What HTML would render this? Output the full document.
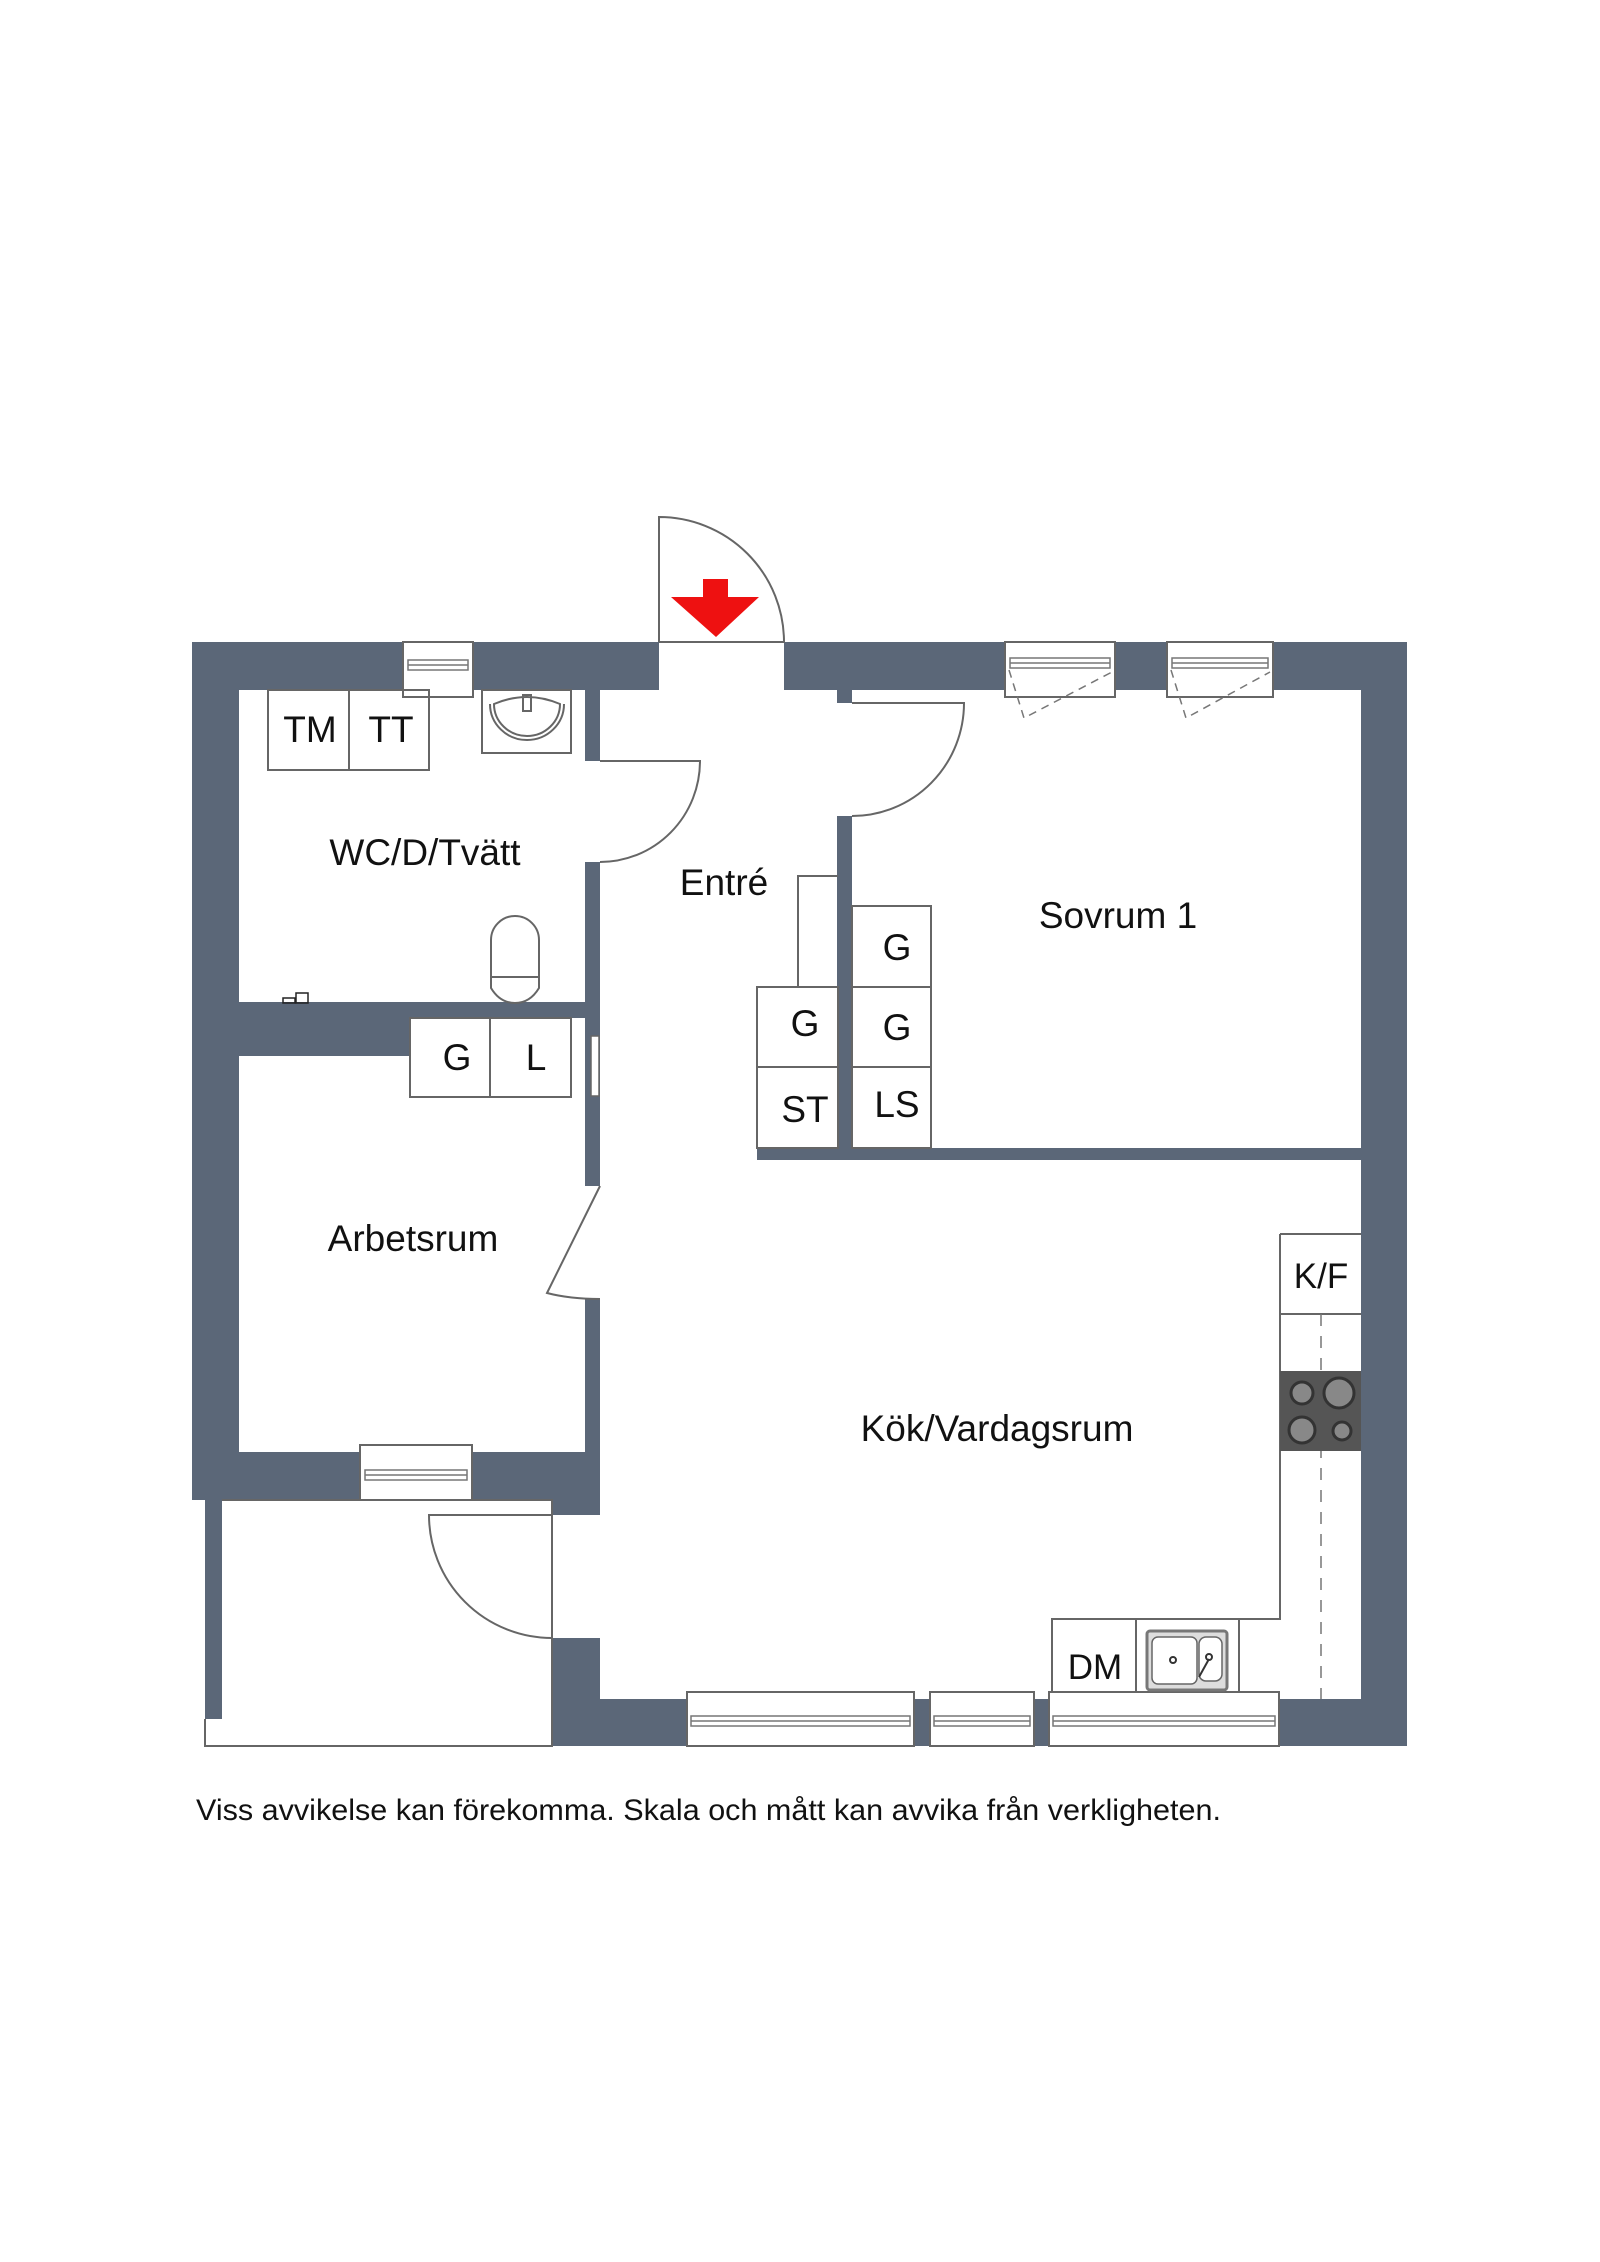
<!DOCTYPE html>
<html><head><meta charset="utf-8"><style>
html,body{margin:0;padding:0;background:#fff;}
svg{display:block;}
text{font-family:"Liberation Sans",Arial,sans-serif;fill:#111;}
</style></head><body>
<svg width="1600" height="2262" viewBox="0 0 1600 2262" xmlns="http://www.w3.org/2000/svg">
<g fill="#5b6778">
<rect x="192" y="642" width="47" height="858"/>
<rect x="192" y="642" width="467" height="48"/>
<rect x="784" y="642" width="623" height="48"/>
<rect x="1361" y="642" width="46" height="1104"/>
<rect x="1279" y="1699" width="128" height="47"/>
<rect x="837" y="690" width="15" height="13"/>
<rect x="837" y="816" width="15" height="344"/>
<rect x="757" y="1148" width="604" height="12"/>
<rect x="585" y="690" width="15" height="71"/>
<rect x="585" y="862" width="15" height="324"/>
<rect x="585" y="1299" width="15" height="153"/>
<rect x="239" y="1002" width="171" height="54"/>
<rect x="410" y="1002" width="190" height="16"/>
<rect x="192" y="1452" width="408" height="48"/>
<rect x="552" y="1500" width="48" height="15"/>
<rect x="205" y="1500" width="17" height="219"/>
<rect x="552" y="1638" width="48" height="108"/>
<rect x="552" y="1699" width="135" height="47"/>
<rect x="914" y="1699" width="16" height="47"/>
<rect x="1034" y="1699" width="15" height="47"/>
</g>

<g fill="#fff" stroke="#666" stroke-width="2">
<rect x="403" y="642" width="70" height="55"/>
<rect x="1005" y="642" width="110" height="55"/>
<rect x="1167" y="642" width="106" height="55"/>
<rect x="360" y="1445" width="112" height="55"/>
<rect x="687" y="1692" width="227" height="54"/>
<rect x="930" y="1692" width="104" height="54"/>
<rect x="1049" y="1692" width="230" height="54"/>
<rect x="591" y="1036" width="8" height="60" stroke-width="1.5"/>
</g>
<g fill="none" stroke="#777" stroke-width="1.5">
<rect x="408" y="660" width="60" height="10"/>
<line x1="408" y1="665" x2="468" y2="665"/>
<rect x="1010" y="658" width="100" height="10"/>
<line x1="1010" y1="663" x2="1110" y2="663"/>
<rect x="1172" y="658" width="96" height="10"/>
<line x1="1172" y1="663" x2="1268" y2="663"/>
<rect x="365" y="1470" width="102" height="10"/>
<line x1="365" y1="1475" x2="467" y2="1475"/>
<rect x="691" y="1716" width="219" height="10"/>
<line x1="691" y1="1721" x2="910" y2="1721"/>
<rect x="934" y="1716" width="96" height="10"/>
<line x1="934" y1="1721" x2="1030" y2="1721"/>
<rect x="1053" y="1716" width="222" height="10"/>
<line x1="1053" y1="1721" x2="1275" y2="1721"/>
<path d="M1009 670 L1024 718 L1112 672 M1171 670 L1186 718 L1270 672" stroke-dasharray="8 6"/>
</g>

<g fill="none" stroke="#666" stroke-width="2">
<path d="M659 642 L659 517 A125 125 0 0 1 784 642 L659 642"/>
<path d="M600 761 L700 761 A100 101 0 0 1 600 862"/>
<path d="M852 703 L964 703 A112 113 0 0 1 852 816"/>
<path d="M600 1186 L547 1293 Q570 1299 600 1299"/>
<path d="M552 1515 L429 1515 A123 123 0 0 0 552 1638"/>
<path d="M222 1500 L552 1500 L552 1746 L205 1746 L205 1719"/>
<rect x="268" y="690" width="81" height="80"/>
<rect x="349" y="690" width="80" height="80"/>
<rect x="482" y="690" width="89" height="63"/>
<path d="M494 704 A33 32 0 1 0 560 704 Q527 690 494 704 Z"/>
<path d="M490 704 A37 36 0 1 0 564 704"/>
<rect x="523" y="695" width="8" height="16"/>
<path d="M491 977 L491 940 A24 24 0 0 1 539 940 L539 977"/>
<path d="M491 977 L539 977 L539 988 Q530 1003 515 1003 Q500 1003 491 988 Z"/>
<rect x="410" y="1018" width="80" height="79"/>
<rect x="490" y="1018" width="81" height="79"/>
<rect x="757" y="987" width="81" height="80"/>
<rect x="757" y="1067" width="81" height="81"/>
<path d="M798 987 L798 876 L838 876"/>
<rect x="852" y="906" width="79" height="81"/>
<rect x="852" y="987" width="79" height="80"/>
<rect x="852" y="1067" width="79" height="81"/>
<path d="M1280 1234 L1361 1234 M1280 1234 L1280 1619 L1052 1619 L1052 1692 M1136 1619 L1136 1692 M1239 1619 L1239 1692 M1280 1314 L1361 1314"/>
</g>
<line x1="1321" y1="1314" x2="1321" y2="1699" stroke="#777" stroke-width="1.5" stroke-dasharray="12 10"/>
<rect x="1280" y="1371" width="81" height="80" fill="#555"/>
<g stroke="#333" stroke-width="3" fill="#888">
<circle cx="1302" cy="1393" r="11"/>
<circle cx="1339" cy="1393" r="15"/>
<circle cx="1302" cy="1430" r="13"/>
<circle cx="1342" cy="1431" r="9"/>
</g>
<rect x="1147" y="1631" width="80" height="59" rx="3" fill="#ddd" stroke="#777" stroke-width="3"/>
<rect x="1152" y="1637" width="45" height="47" rx="6" fill="#fff" stroke="#666" stroke-width="1.5"/>
<rect x="1199" y="1637" width="23" height="44" rx="7" fill="#fff" stroke="#666" stroke-width="1.5"/>
<circle cx="1173" cy="1660" r="3" fill="none" stroke="#333" stroke-width="2"/>
<circle cx="1209" cy="1657" r="3" fill="none" stroke="#333" stroke-width="2"/>
<line x1="1209" y1="1659" x2="1199" y2="1677" stroke="#333" stroke-width="2"/>
<path d="M703 579 L728 579 L728 597 L759 597 L716 637 L671 597 L703 597 Z" fill="#ee1111"/>
<rect x="283" y="998" width="12" height="5" fill="none" stroke="#222" stroke-width="1.5"/>
<rect x="296" y="993" width="12" height="10" fill="none" stroke="#222" stroke-width="1.5"/>

<g font-size="37">
<text x="310" y="742" text-anchor="middle">TM</text>
<text x="391" y="742" text-anchor="middle">TT</text>
<text x="425" y="865" text-anchor="middle">WC/D/Tvätt</text>
<text x="724" y="895" text-anchor="middle">Entré</text>
<text x="1118" y="928" text-anchor="middle">Sovrum 1</text>
<text x="897" y="960" text-anchor="middle">G</text>
<text x="805" y="1036" text-anchor="middle">G</text>
<text x="897" y="1040" text-anchor="middle">G</text>
<text x="805" y="1122" text-anchor="middle">ST</text>
<text x="897" y="1117" text-anchor="middle">LS</text>
<text x="457" y="1070" text-anchor="middle">G</text>
<text x="536" y="1070" text-anchor="middle">L</text>
<text x="413" y="1251" text-anchor="middle">Arbetsrum</text>
<text x="997" y="1441" text-anchor="middle">Kök/Vardagsrum</text>
<text x="1321" y="1288" text-anchor="middle" font-size="35">K/F</text>
<text x="1095" y="1679" text-anchor="middle" font-size="35">DM</text>
</g>
<text x="196" y="1820" font-size="30" textLength="1025" lengthAdjust="spacingAndGlyphs">Viss avvikelse kan förekomma. Skala och mått kan avvika från verkligheten.</text>
</svg>
</body></html>
